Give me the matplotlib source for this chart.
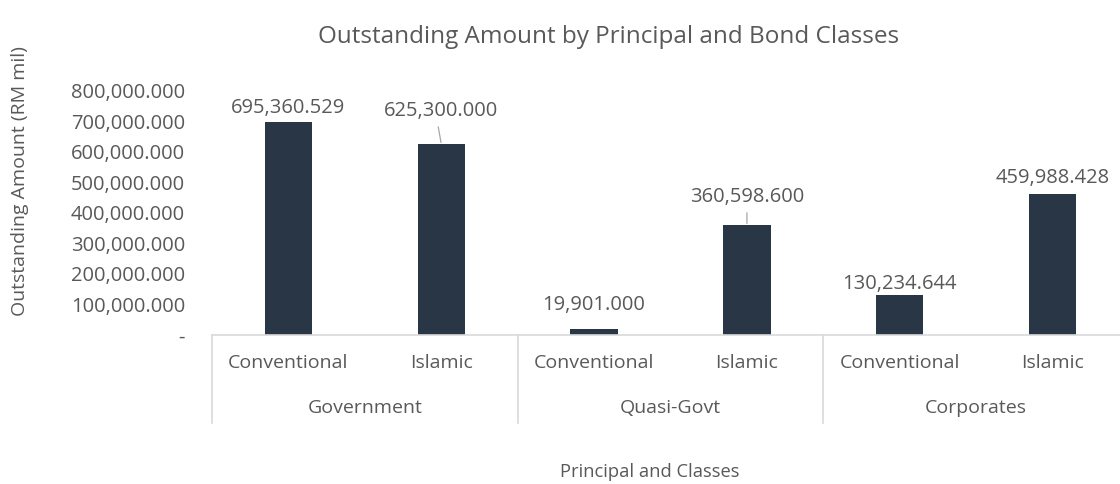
import matplotlib
matplotlib.use("Agg")
import matplotlib.pyplot as plt
from matplotlib.ticker import FuncFormatter

plt.rcParams['font.family'] = ['Open Sans', 'DejaVu Sans']

groups = ["Government", "Quasi-Govt", "Corporates"]
classes = ["Conventional", "Islamic"]
values = [695360.529, 625300.000, 19901.000, 360598.600, 130234.644, 459988.428]
yticks = [0, 100000, 200000, 300000, 400000, 500000, 600000, 700000, 800000]

# label offset above bar top (pixels); leader line top x shift (None = no leader)
label_offsets = [14, 33, 24, 28, 11, 16]
leader_dx = [None, -3, None, 0, None, None]

TEXT = "#595959"
BAR = "#283645"
GRID = "#d9d9d9"
PX = 0.72  # points per pixel at dpi 100

fig = plt.figure(figsize=(11.2, 4.84), dpi=100)
ax = fig.add_axes([212 / 1120, 1 - 335 / 484, (1129 - 212) / 1120, 244.5 / 484])

n = len(values)
x = list(range(n))
ax.bar(x, values, width=0.31, color=BAR, zorder=2)
ax.set_xlim(-0.5, n - 0.5)
ax.set_ylim(0, 800000)
ax.set_yticks(yticks)
ax.yaxis.set_major_formatter(FuncFormatter(lambda v, p: "-" if v == 0 else f"{v:,.3f}"))
ax.tick_params(axis="y", length=0, labelsize=14.5, labelcolor=TEXT, pad=27 * PX)
ax.set_xticks([])

for s in ["top", "right", "left"]:
    ax.spines[s].set_visible(False)
ax.spines["bottom"].set_color(GRID)
ax.spines["bottom"].set_linewidth(1.2)

# data labels
for i, v in enumerate(values):
    off = label_offsets[i] * PX
    ax.annotate(f"{v:,.3f}", xy=(i, v), xytext=(0, off), textcoords="offset points",
                ha="center", va="center", fontsize=14.5, color=TEXT)
    if leader_dx[i] is not None:
        ax.annotate("", xy=(i, v), xytext=(leader_dx[i] * PX, off - 16 * PX),
                    textcoords="offset points",
                    arrowprops=dict(arrowstyle="-", color="#a6a6a6", lw=0.9, shrinkA=0, shrinkB=1))

# multi-level category axis
trans = ax.get_xaxis_transform()
for i in range(n):
    ax.text(i, -0.115, classes[i % 2], transform=trans, ha="center", va="center",
            fontsize=14, color=TEXT)
for g, name in enumerate(groups):
    ax.text(2 * g + 0.5, -0.30, name, transform=trans, ha="center", va="center",
            fontsize=14, color=TEXT)
for g in range(len(groups)):
    ax.plot([2 * g - 0.5, 2 * g - 0.5], [0, -0.36], transform=trans, color=GRID,
            lw=1.2, clip_on=False)

fig.text(20 / 1120, 1 - 181 / 484, "Outstanding Amount (RM mil)", rotation=90,
         ha="center", va="center", fontsize=14, color=TEXT)
fig.text(609 / 1120, 1 - 37 / 484, "Outstanding Amount by Principal and Bond Classes",
         ha="center", va="center", fontsize=17.5, color=TEXT)
fig.text(650 / 1120, 1 - 472 / 484, "Principal and Classes", ha="center", va="center",
         fontsize=13.2, color=TEXT)

fig.savefig("out.png", dpi=100)
